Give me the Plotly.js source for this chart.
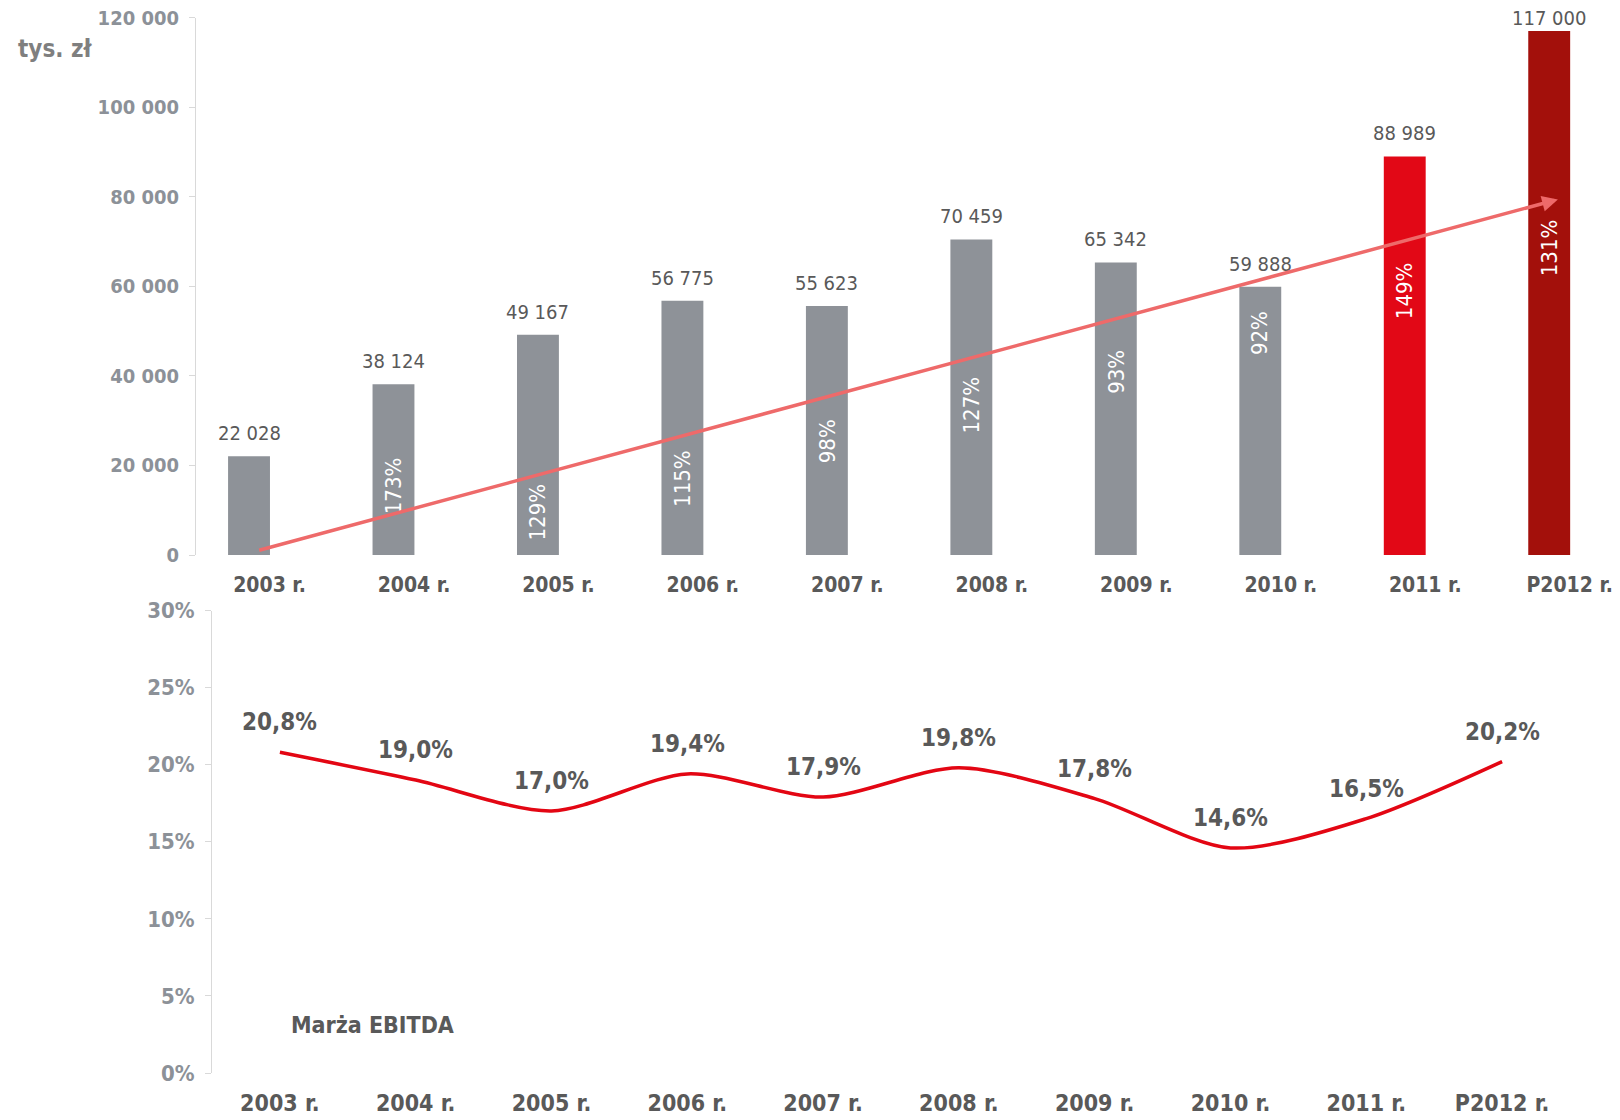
<!DOCTYPE html>
<html>
<head>
<meta charset="utf-8">
<script src="https://cdn.plot.ly/plotly-3.0.1.min.js"></script>
<style>
    body { margin: 0; background: #fff; }
    #myDiv { width: 1620px; height: 1120px; }
</style>
</head>
<body>
<div id="myDiv"></div>
<script>
const years = ['2003 r.', '2004 r.', '2005 r.', '2006 r.', '2007 r.', '2008 r.', '2009 r.', '2010 r.', '2011 r.', 'P2012 r.'];
const revenue = [22028, 38124, 49167, 56775, 55623, 70459, 65342, 59888, 88989, 117000];
const growth = [null, 173, 129, 115, 98, 127, 93, 92, 149, 131];
// height (tys. zł) where each growth label sits inside its bar
const growthLabelAt = [null, 15460, 9690, 17080, 25380, 33460, 40850, 49620, 59080, 68540];
const ebitdaMargin = [20.8, 19.0, 17.0, 19.4, 17.9, 19.8, 17.8, 14.6, 16.5, 20.2];
const marginTicks = [0, 5, 10, 15, 20, 25, 30];

const FONT = 'DejaVu Sans Condensed, DejaVu Sans, sans-serif';
const DARK = '#595959';
const TICK_GREY = '#8c9198';

// pixel helpers for top panel (used only to keep the top label inside the page)
const TOP_Y0 = 555, TOP_Y1 = 17.6, TOP_MAX = 120000;
// top year labels sit a little right of the bar centres in the original
const TOP_LABEL_OFFSET = 0.142;

function fmtThousands(v) {
    return String(v).replace(/\B(?=(\d{3})+(?!\d))/g, ' ');
}

function barColor(i) {
    if (years[i] === '2011 r.') return '#e20816';
    if (years[i] === 'P2012 r.') return '#a3100b';
    return '#8e9298';
}

const barTrace = {
    x: years.map((y, i) => i),
    y: revenue,
    type: 'bar',
    width: 0.29,
    marker: { color: years.map((y, i) => barColor(i)) },
    xaxis: 'x',
    yaxis: 'y',
    hoverinfo: 'none'
};

const lineTrace = {
    x: years.map((y, i) => i),
    y: ebitdaMargin,
    type: 'scatter',
    mode: 'lines',
    line: { color: '#e30613', width: 3.5, shape: 'spline', smoothing: 0.8 },
    xaxis: 'x2',
    yaxis: 'y2',
    hoverinfo: 'none'
};

const annotations = [];

// value labels above bars
revenue.forEach((v, i) => {
    const topPx = TOP_Y0 - v / TOP_MAX * (TOP_Y0 - TOP_Y1);
    annotations.push({
        x: i, y: v, xref: 'x', yref: 'y',
        text: fmtThousands(v), showarrow: false,
        yshift: Math.min(23, topPx - 18),
        font: { family: FONT, size: 20, color: DARK }
    });
});

// rotated growth labels inside bars
growth.forEach((g, i) => {
    if (g === null) return;
    annotations.push({
        x: i, y: growthLabelAt[i], xref: 'x', yref: 'y',
        text: g + '%', showarrow: false, textangle: -90,
        font: { family: FONT, size: 22, color: '#ffffff' }
    });
});

// trend arrow
annotations.push({
    x: 9.06, y: 79400, xref: 'x', yref: 'y',
    ax: 0.06, ay: 980, axref: 'x', ayref: 'y',
    text: '', showarrow: true, arrowhead: 2, arrowsize: 0.9,
    arrowwidth: 3.5, arrowcolor: '#ee6a6a', standoff: 0, startstandoff: 0
});

// margin labels above line
ebitdaMargin.forEach((m, i) => {
    annotations.push({
        x: i, y: m, xref: 'x2', yref: 'y2',
        text: '<b>' + m.toFixed(1).replace('.', ',') + '%</b>', showarrow: false,
        yshift: 30, font: { family: FONT, size: 24, color: DARK }
    });
});

annotations.push({
    x: 55 / 1620, y: 1 - 49 / 1120, xref: 'paper', yref: 'paper',
    xanchor: 'center', yanchor: 'middle',
    text: '<b>tys. zł</b>', showarrow: false,
    font: { family: FONT, size: 24, color: '#7f7f7f' }
});

annotations.push({
    x: 0.68, y: 3.1, xref: 'x2', yref: 'y2',
    text: '<b>Marża EBITDA</b>', showarrow: false,
    font: { family: FONT, size: 23, color: DARK }
});

const layout = {
    width: 1620,
    height: 1120,
    margin: { l: 0, r: 0, t: 0, b: 0 },
    paper_bgcolor: '#ffffff',
    plot_bgcolor: '#ffffff',
    showlegend: false,
    separators: ', ',
    font: { family: FONT },
    xaxis: {
        domain: [196 / 1620, 1],
        range: [-0.367, 9.49],
        tickvals: years.map((y, i) => i + TOP_LABEL_OFFSET),
        ticktext: years,
        showgrid: false, zeroline: false, showline: false,
        ticks: '', ticklabelstandoff: 15,
        tickfont: { family: FONT, size: 21, color: DARK, weight: 'bold' },
        anchor: 'y'
    },
    yaxis: {
        domain: [1 - TOP_Y0 / 1120, 1 - TOP_Y1 / 1120],
        range: [0, TOP_MAX],
        tickvals: [0, 20000, 40000, 60000, 80000, 100000, 120000],
        tickformat: ',d',
        showgrid: false, zeroline: false,
        showline: true, linecolor: '#d9d9d9', linewidth: 1,
        ticks: 'outside', ticklen: 6, tickcolor: '#d9d9d9',
        ticklabelstandoff: 6,
        tickfont: { family: FONT, size: 20, color: TICK_GREY, weight: 'bold' },
        anchor: 'x'
    },
    xaxis2: {
        domain: [212 / 1620, 1570 / 1620],
        range: [-0.5, 9.5],
        tickvals: years.map((y, i) => i),
        ticktext: years,
        showgrid: false, zeroline: false, showline: false,
        ticks: '', ticklabelstandoff: 14,
        tickfont: { family: FONT, size: 23, color: DARK, weight: 'bold' },
        anchor: 'y2'
    },
    yaxis2: {
        domain: [1 - 1073 / 1120, 1 - 610.5 / 1120],
        range: [0, 30],
        tickvals: marginTicks,
        ticktext: marginTicks.map(t => t + '%'),
        showgrid: false, zeroline: false,
        showline: true, linecolor: '#d9d9d9', linewidth: 1,
        ticks: 'outside', ticklen: 6, tickcolor: '#d9d9d9',
        ticklabelstandoff: 6,
        tickfont: { family: FONT, size: 22, color: TICK_GREY, weight: 'bold' },
        anchor: 'x2'
    },
    annotations: annotations
};

Plotly.newPlot('myDiv', [barTrace, lineTrace], layout, { staticPlot: true });
</script>
</body>
</html>
